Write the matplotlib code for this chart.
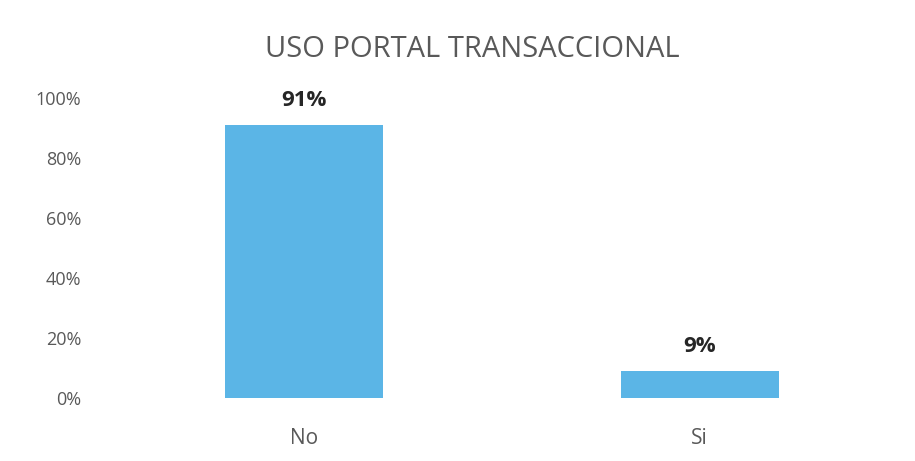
import matplotlib.pyplot as plt
from matplotlib.ticker import PercentFormatter

categories = ['No', 'Si']
values = [0.91, 0.09]
labels = ['91%', '9%']
yticks = [0, 0.2, 0.4, 0.6, 0.8, 1.0]

plt.rcParams['font.family'] = ['Open Sans', 'DejaVu Sans']

fig = plt.figure(figsize=(9.15, 4.61), dpi=100)
ax = fig.add_axes([0.116, 0.137, 0.865, 0.651])

bars = ax.bar(categories, values, width=0.4, color='#5BB5E6')
for bar, lab in zip(bars, labels):
    ax.text(bar.get_x() + bar.get_width() / 2, bar.get_height() + 0.045, lab,
            ha='center', va='bottom', fontsize=16, fontweight='bold', color='#262626')

ax.set_ylim(0, 1.0)
ax.set_xlim(-0.5, 1.5)
ax.set_yticks(yticks)
ax.yaxis.set_major_formatter(PercentFormatter(1.0, decimals=0))
ax.tick_params(axis='both', length=0, labelcolor='#595959')
ax.tick_params(axis='y', pad=18, labelsize=13)
ax.tick_params(axis='x', pad=22, labelsize=15)
for s in ax.spines.values():
    s.set_visible(False)

fig.text(0.516, 0.893, 'USO PORTAL TRANSACCIONAL', ha='center', va='center',
         fontsize=21, color='#595959')

fig.savefig('out.png', dpi=100)
